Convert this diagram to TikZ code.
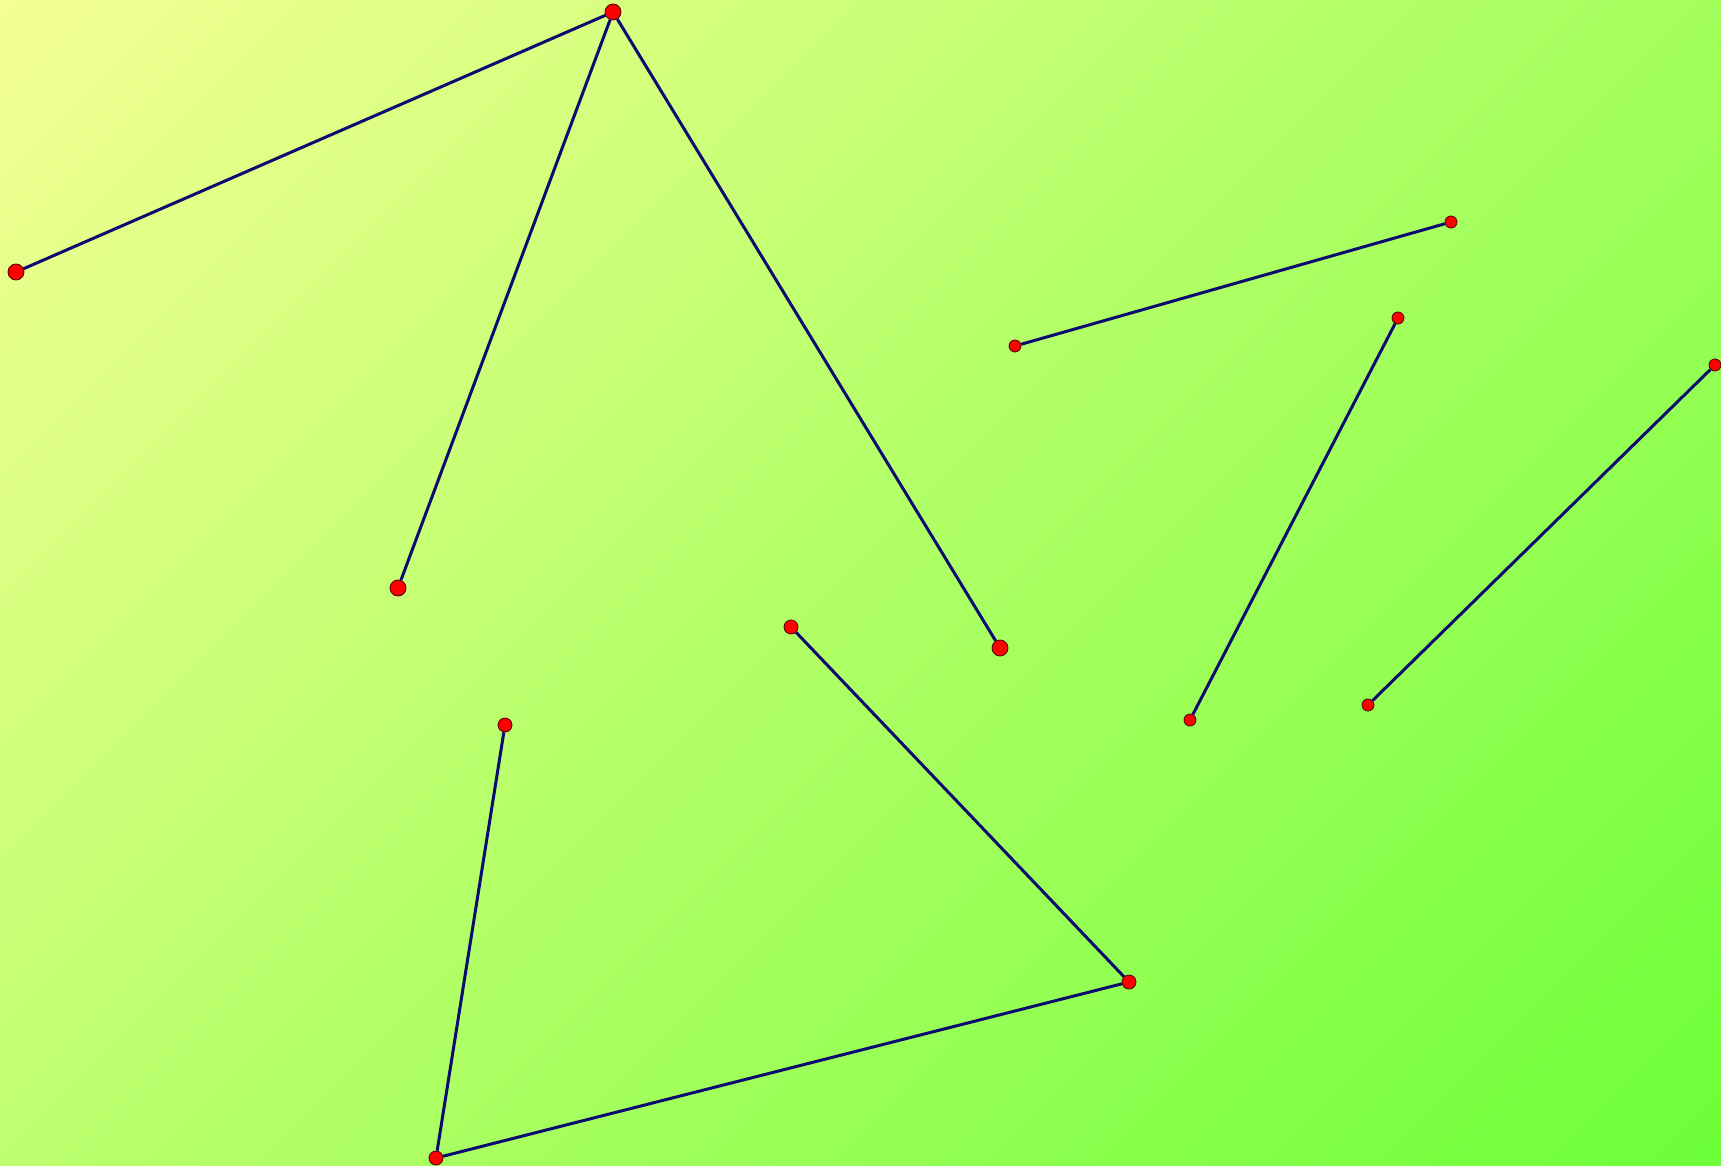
\documentclass[tikz,border=0pt]{standalone}
\begin{document}
\definecolor{bgA}{HTML}{F5FF94}
\definecolor{bgB}{HTML}{6CFF38}
\definecolor{edgec}{HTML}{0C0C70}
\definecolor{dotc}{HTML}{FF0000}
\definecolor{dotline}{HTML}{4A0000}
\begin{tikzpicture}[x=1pt,y=-1pt,
  dotbig/.style={circle,fill=dotc,draw=dotline,line width=0.8pt,inner sep=0pt,minimum size=16pt},
  dotmid/.style={circle,fill=dotc,draw=dotline,line width=0.8pt,inner sep=0pt,minimum size=14pt},
  dotsmall/.style={circle,fill=dotc,draw=dotline,line width=0.8pt,inner sep=0pt,minimum size=12pt},
  link/.style={draw=edgec,line width=3pt}]
\useasboundingbox (0,0) rectangle (1721,1166);
\begin{scope}
\clip (0,0) rectangle (1721,1166);
\foreach \i in {0,...,288}{
  \pgfmathsetmacro\p{\i/2.88}
  \pgfmathsetmacro\s{10*\i}
  \fill[bgB!\p!bgA] (\s,0) -- (\s+11,0) -- (\s+11-1166,1166) -- (\s-1166,1166) -- cycle;
}
\end{scope}
\node[dotbig] (A) at (613,12) {};
\node[dotbig] (B) at (16,272) {};
\node[dotbig] (C) at (398,588) {};
\node[dotbig] (D) at (1000,648) {};
\node[dotsmall] (E) at (1015,346) {};
\node[dotsmall] (F) at (1451,222) {};
\node[dotsmall] (G) at (1398,318) {};
\node[dotsmall] (H) at (1190,720) {};
\node[dotsmall] (I) at (1715,365) {};
\node[dotsmall] (J) at (1368,705) {};
\node[dotmid] (K) at (791,627) {};
\node[dotmid] (L) at (1129,982) {};
\node[dotmid] (M) at (436,1158) {};
\node[dotmid] (N) at (505,725) {};
\draw[link] (A) -- (B);
\draw[link] (A) -- (C);
\draw[link] (A) -- (D);
\draw[link] (E) -- (F);
\draw[link] (G) -- (H);
\draw[link] (I) -- (J);
\draw[link] (K) -- (L);
\draw[link] (L) -- (M);
\draw[link] (M) -- (N);
\end{tikzpicture}
\end{document}
